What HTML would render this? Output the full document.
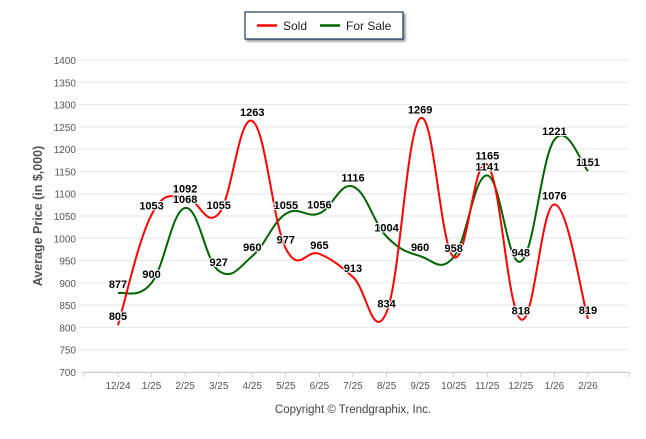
<!DOCTYPE html>
<html><head><meta charset="utf-8"><style>
body{margin:0;background:#fff;font-family:"Liberation Sans",sans-serif}
svg text{font-family:"Liberation Sans",sans-serif}
</style></head><body>
<svg id="c" width="646" height="434">
<rect x="245" y="12" width="158" height="27" fill="#fff" stroke="#1f3864" stroke-width="1.2" style="filter:drop-shadow(2px 2px 1px #999)"/>
<g><line x1="257" y1="25.5" x2="277" y2="25.5" stroke="#ff0000" stroke-width="2.5"/><text x="283" y="30" font-size="12" fill="#222">Sold</text></g>
<g><line x1="320" y1="25.5" x2="340" y2="25.5" stroke="#006400" stroke-width="2.5"/><text x="346" y="30" font-size="12" fill="#222">For Sale</text></g>
<text transform="translate(42,216) rotate(-90)" text-anchor="middle" font-size="12.5" font-weight="bold" fill="#555">Average Price (in $,000)</text>
<text x="353" y="413" text-anchor="middle" font-size="11.5" fill="#444">Copyright © Trendgraphix, Inc.</text>
<g id="grid"></g><g id="series"></g><g id="labels"></g>
</svg>
<script>
const categories=["12/24","1/25","2/25","3/25","4/25","5/25","6/25","7/25","8/25","9/25","10/25","11/25","12/25","1/26","2/26"];
const sold=[805,1053,1092,1055,1263,977,965,913,834,1269,958,1165,818,1076,819];
const forSale=[877,900,1068,927,960,1055,1056,1116,1004,960,958,1141,948,1221,1151];
const yTicks=[700,750,800,850,900,950,1000,1050,1100,1150,1200,1250,1300,1350,1400];
const NS="http://www.w3.org/2000/svg";
const L=79,R=629,T=60,B=372,x0=118,dx=33.57;
const X=i=>x0+i*dx, Y=v=>B-(v-700)/700*(B-T);
function el(t,a,p){const e=document.createElementNS(NS,t);for(const k in a)e.setAttribute(k,a[k]);p.appendChild(e);return e;}
const g=document.getElementById('grid');
yTicks.forEach(v=>{
 const l=el('line',{x1:L,x2:R,y1:Y(v),y2:Y(v),stroke:'#e6e6e6'},g);
 
 
 const t=el('text',{x:L-3,y:Y(v)+4,'text-anchor':'end','font-size':'10',fill:'#555'},g);t.textContent=v;
 
 
});
el('line',{x1:L+5,x2:R,y1:B+0.5,y2:B+0.5,stroke:'#ccc'},g);
[L+5,...categories.map((c,i)=>X(i)),R].forEach(x=>el('line',{x1:x,x2:x,y1:B,y2:B+5,stroke:'#ccc'},g));
categories.forEach((c,i)=>{const t=el('text',{x:X(i),y:B+17,'text-anchor':'middle','font-size':'10',fill:'#555'},g);t.textContent=c;
 
 });
function path(vals){
 const p=vals.map((v,i)=>[X(i),Y(v)]);let d='M'+p[0];
 const k=0.2;
 for(let i=0;i<p.length-1;i++){
  const a=p[i-1]||p[i],b=p[i],c=p[i+1],e=p[i+2]||c;
  const c1=[b[0]+(c[0]-a[0])*k,b[1]+(c[1]-a[1])*k],c2=[c[0]-(e[0]-b[0])*k,c[1]-(e[1]-b[1])*k];
  d+=' C'+c1+' '+c2+' '+c;
 }
 return d;
}
const s=document.getElementById('series');
const fs=el('path',{d:path(forSale),fill:'none',stroke:'#006400','stroke-width':2},s);


const sd=el('path',{d:path(sold),fill:'none',stroke:'#ff0000','stroke-width':2},s);


const lb=document.getElementById('labels');
[[sold,'sold'],[forSale,'for-sale']].forEach(([arr,n])=>arr.forEach((v,i)=>{
 const t=el('text',{x:X(i),y:Y(v)-5,'text-anchor':'middle','font-size':'11','font-weight':'bold',fill:'#000',stroke:'#fff','stroke-width':2,'paint-order':'stroke'},lb);
 t.textContent=v;
 
 
}));
</script>
</body></html>
